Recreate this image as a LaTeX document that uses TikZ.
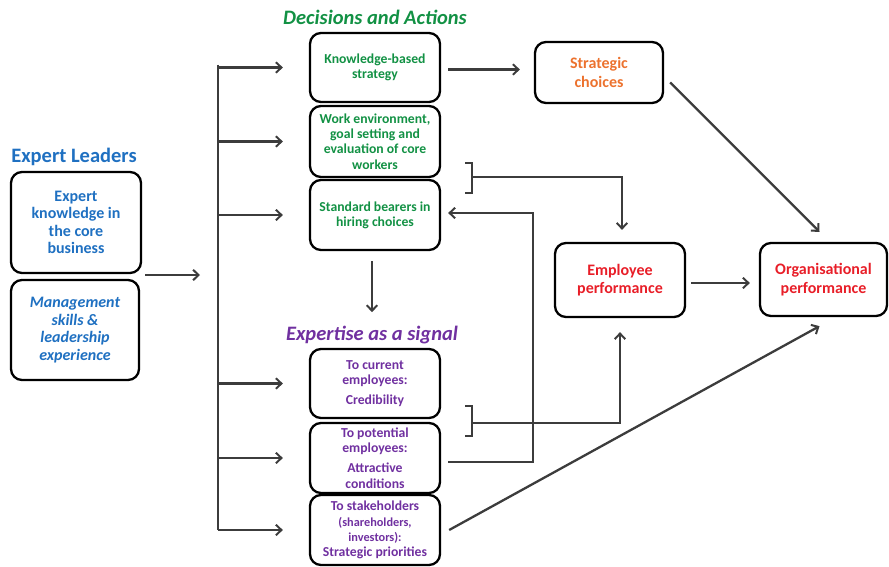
\documentclass[tikz,border=0pt]{standalone}
\usepackage{fontspec}
\setmainfont{Carlito}
\usetikzlibrary{arrows.meta}
\definecolor{leadblue}{RGB}{31,112,193}
\definecolor{actgreen}{RGB}{18,145,68}
\definecolor{choiceorange}{RGB}{236,114,46}
\definecolor{perfred}{RGB}{232,30,40}
\definecolor{sigpurple}{RGB}{112,48,160}
\definecolor{linegray}{RGB}{60,60,60}
\begin{document}
\begin{tikzpicture}[x=1pt,y=-1pt,
  box/.style={draw=black,line width=2.3pt,rounded corners=11pt,align=center,inner sep=2pt},
  midtext/.style={font=\bfseries\fontsize{13.7}{15.2}\selectfont},
  bigtext/.style={font=\bfseries\fontsize{16}{18.5}\selectfont},
  arr/.style={draw=linegray,line width=2.3pt,-{Straight Barb[length=5.5pt,width=10.5pt,line width=2pt]}},
  ln/.style={draw=linegray,line width=2.3pt},
  title/.style={font=\bfseries\fontsize{20.5}{24}\selectfont}]
\useasboundingbox (0,0) rectangle (889,566);

% titles
\node[title,text=leadblue] (tlead) at (74,157) {Expert Leaders};
\node[title,text=actgreen,font=\bfseries\itshape\fontsize{20.5}{24}\selectfont] (tact) at (375,17) {Decisions and Actions};
\node[title,text=sigpurple,font=\bfseries\itshape\fontsize{20.5}{24}\selectfont] (tsig) at (372,335) {Expertise as a signal};

% expert leaders
\node[box,text=leadblue,minimum width=130pt,minimum height=101pt,
  font=\bfseries\fontsize{16}{17.5}\selectfont] (el1) at (76,222.5)
  {Expert\\knowledge in\\the core\\business};
\node[box,text=leadblue,minimum width=128pt,minimum height=100pt,
  font=\bfseries\itshape\fontsize{16}{17.5}\selectfont] (el2) at (75,330)
  {Management\\skills \&\\leadership\\experience};

% decisions and actions
\node[box,midtext,text=actgreen,minimum width=130pt,minimum height=69pt] (kb) at (375,67.5) {Knowledge-based\\strategy};
\node[box,midtext,text=actgreen,minimum width=130pt,minimum height=71pt] (we) at (375,141.5) {Work environment,\\goal setting and\\evaluation of core\\workers};
\node[box,midtext,text=actgreen,minimum width=130pt,minimum height=70pt] (sb) at (375,215) {Standard bearers in\\hiring choices};

% expertise as a signal
\node[box,midtext,text=sigpurple,minimum width=130pt,minimum height=69pt] (cur) at (375,383.5) {To current\\employees:\\[5pt]Credibility};
\node[box,midtext,text=sigpurple,minimum width=130pt,minimum height=70pt] (pot) at (375,458) {To potential\\employees:\\[5pt]Attractive\\conditions};
\node[box,midtext,text=sigpurple,minimum width=130pt,minimum height=70pt] (stk) at (375,530) {To stakeholders\\{\fontsize{12.3}{13.5}\selectfont(shareholders,}\\{\fontsize{12.3}{13.5}\selectfont investors):}\\Strategic priorities};

% outcomes
\node[box,bigtext,text=choiceorange,minimum width=128pt,minimum height=61pt,
  font=\bfseries\fontsize{16}{19.5}\selectfont] (sc) at (599,72.5) {Strategic\\choices};
\node[box,bigtext,text=perfred,minimum width=130pt,minimum height=74pt] (ep) at (620,280) {Employee\\performance};
\node[box,bigtext,text=perfred,minimum width=127pt,minimum height=73pt] (op) at (823.5,279.5) {Organisational\\performance};

% leaders feed the distribution trunk
\coordinate (lin) at (145,275);
\coordinate (lout) at (200,275);
\coordinate (trunk) at (218,0);
\draw[arr] (lin) -- (lout);
\draw[ln] (kb.west -| trunk) ++(0,-3) -- (stk.west -| trunk);
\foreach \t in {kb,we,sb,cur,pot,stk}
  \draw[arr] (\t.west -| trunk) -- ([xshift=-26pt]\t.west);

% decisions flow
\draw[arr] ([xshift=7pt,yshift=-2pt]kb.east) -- ([xshift=-14pt,yshift=-2pt]kb.east -| sc.west);
\draw[arr] ([xshift=6pt,yshift=-10pt]sc.east) -- ([xshift=-4pt,yshift=10pt]op.north);
\draw[arr] ([xshift=5pt,yshift=-3pt]ep.east) -- ([xshift=-9pt,yshift=-3pt]ep.east -| op.west);
\draw[arr] ([xshift=-3pt,yshift=-10pt]sb.south) -- ([xshift=-3pt,yshift=-61pt]sb.south);

% upper bracket: work environment and hiring to employee performance
\coordinate (ub) at (472,178);
\draw[ln] ([shift={(-7,-15)}]ub) -- ([shift={(0,-15)}]ub) -- ([shift={(0,15)}]ub) -- ([shift={(-7,15)}]ub);
\draw[arr] ([yshift=1pt]ub) -| ([xshift=2pt,yshift=12pt]ep.north);

% lower bracket: signals to employees to employee performance
\coordinate (lb) at (472,421);
\draw[ln] ([shift={(-7,-15)}]lb) -- ([shift={(0,-15)}]lb) -- ([shift={(0,15)}]lb) -- ([shift={(-7,15)}]lb);
\draw[arr] ([yshift=-2pt]lb) -| ([yshift=-14pt]ep.south);

% attraction feeds back into hiring
\draw[arr] ([xshift=7pt,yshift=-4pt]pot.east) -- ++(85,0) |- ([xshift=7pt,yshift=2pt]sb.east);

% stakeholder signal to organisational performance
\draw[arr] ([xshift=8pt]stk.east) -- ([xshift=-4pt,yshift=-9pt]op.south);
\end{tikzpicture}
\end{document}
